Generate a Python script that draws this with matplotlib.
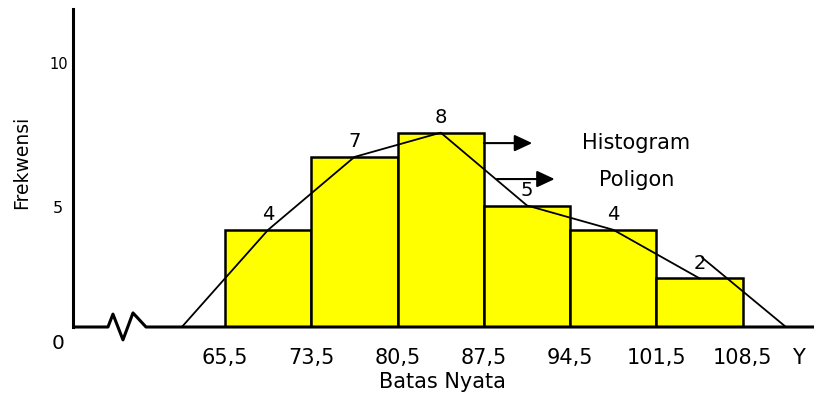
import matplotlib
matplotlib.use('Agg')
import matplotlib.pyplot as plt
import numpy as np

# data: batas nyata (class boundaries) and frekwensi
batas = ['65,5', '73,5', '80,5', '87,5', '94,5', '101,5', '108,5']
frek = [4, 7, 8, 5, 4, 2]

plt.rcParams['font.family'] = ['DejaVu Sans']

fig = plt.figure(figsize=(8.14, 3.97), dpi=100)
ax = fig.add_axes([73 / 814, 70 / 397, 741 / 814, 318 / 397])

n = len(frek)
edges = np.arange(n + 1)
mids = edges[:-1] + 0.5

# histogram bars
ax.bar(mids, frek, width=1.0, color='#FFFF00', edgecolor='black', linewidth=1.8, zorder=2)

# frequency labels on top of bars
for x, f in zip(mids, frek):
    ax.annotate(str(f), (x, f), xytext=(0, 11), textcoords='offset points',
                ha='center', va='center', fontsize=14, zorder=4)

# polygon (drawn in two pieces like the original)
px = np.concatenate([[mids[0] - 1], mids])
py = np.concatenate([[0], frek])
ax.plot(px, py, color='black', lw=1.3, zorder=3)
ax.plot([mids[-1] + 0.03, mids[-1] + 1], [frek[-1] + 0.85, 0], color='black', lw=1.3, zorder=3)

# arrows with legend text
ax.annotate('', xy=(3.56, 7.57), xytext=(3.0, 7.57),
            arrowprops=dict(arrowstyle='-|>,head_length=0.9,head_width=0.42',
                            mutation_scale=12, color='black', lw=1.5,
                            shrinkA=0, shrinkB=0))
ax.annotate('', xy=(3.82, 6.09), xytext=(3.15, 6.09),
            arrowprops=dict(arrowstyle='-|>,head_length=0.9,head_width=0.42',
                            mutation_scale=12, color='black', lw=1.5,
                            shrinkA=0, shrinkB=0))
ax.text(4.76, 7.57, 'Histogram', ha='center', va='center', fontsize=15)
ax.text(4.77, 6.05, 'Poligon', ha='center', va='center', fontsize=15)

# axes limits
ax.set_xlim(-1.761, 6.825)
ax.set_ylim(0, 13.09)

# baseline with break symbol
ax.spines['top'].set_visible(False)
ax.spines['right'].set_visible(False)
ax.spines['bottom'].set_visible(False)
ax.spines['left'].set_linewidth(2.2)
bx = [-1.761, -1.356, -1.298, -1.182, -1.066, -0.915, 6.825]
by = [0, 0, 0.53, -0.53, 0.58, 0, 0]
ax.plot(bx, by, color='black', lw=2.2, clip_on=False, zorder=5, solid_capstyle='butt')

# x ticks (batas nyata) + Y
ax.set_xticks(list(edges) + [6.64], batas + ['Y'], fontsize=15)
ax.tick_params(axis='x', length=0, pad=15)

# y ticks
ax.set_yticks([])
ax.text(-1.935, 4.86, '5', ha='center', va='center', fontsize=11.5)
ax.text(-1.925, 10.8, '10', ha='center', va='center', fontsize=10.5)
ax.text(-1.935, -0.66, '0', ha='center', va='center', fontsize=14.5, clip_on=False)

fig.text(22 / 814, 1 - 162 / 397, 'Frekwensi', rotation=90, ha='center', va='center', fontsize=13.5)
fig.text(442 / 814, 1 - 382 / 397, 'Batas Nyata', ha='center', va='center', fontsize=15)

fig.savefig('out.png', dpi=100)
